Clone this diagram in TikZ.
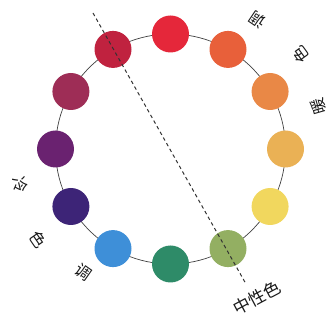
\documentclass[tikz,border=0pt]{standalone}
\usepackage{fontspec}
\newfontfamily\cjk{Noto Sans CJK SC}
\definecolor{cA}{HTML}{E5273A}
\definecolor{cB}{HTML}{C0223F}
\definecolor{cC}{HTML}{9E2D56}
\definecolor{cD}{HTML}{6A2270}
\definecolor{cE}{HTML}{3D2477}
\definecolor{cF}{HTML}{3E8FD8}
\definecolor{cG}{HTML}{2E8B68}
\definecolor{cH}{HTML}{93AF62}
\definecolor{cI}{HTML}{F1D75E}
\definecolor{cJ}{HTML}{EAB155}
\definecolor{cK}{HTML}{E98846}
\definecolor{cL}{HTML}{E8603A}
\begin{document}
\begin{tikzpicture}[x=1pt,y=1pt,
  dot/.style={circle,minimum size=37pt,inner sep=0pt},
  ring/.style={draw=black!75,line width=0.7pt},
  axis/.style={draw=black!80,line width=1pt,dash pattern=on 3.5pt off 3pt},
  lbl/.style={font=\cjk\fontsize{16}{16}\selectfont,text=black!90,inner sep=0pt}]
\useasboundingbox (0,0) rectangle (327,-320);
\coordinate (o) at (170.5,-149);
\draw[ring] (o) circle (115);
\foreach \a/\c/\n in {90/cA/c0,120/cB/c1,150/cC/c2,180/cD/c3,210/cE/c4,240/cF/c5,270/cG/c6,300/cH/c7,330/cI/c8,0/cJ/c9,30/cK/c10,60/cL/c11}
  \node[dot,fill=\c] (\n) at ([shift={(\a:115)}]o) {};
\coordinate (d1) at (93,-13);
\coordinate (d2) at (246,-284);
\draw[axis] (d1) -- (d2);
% warm
\node[lbl,rotate=106] (w1) at ([shift={(16:154)}]o) {暖};
\node[lbl,rotate=126] (w2) at ([shift={(36:161)}]o) {色};
\node[lbl,rotate=146] (w3) at ([shift={(56:156)}]o) {调};
% cool
\node[lbl,rotate=-76.5] (k1) at ([shift={(193.5:154)}]o) {冷};
\node[lbl,rotate=-55.5] (k2) at ([shift={(214.5:160)}]o) {色};
\node[lbl,rotate=-35] (k3) at ([shift={(234.7:151)}]o) {调};
% neutral
\node[lbl,font=\cjk\fontsize{17}{17}\selectfont,rotate=28] (n) at (257,-298) {中性色};
\end{tikzpicture}
\end{document}
